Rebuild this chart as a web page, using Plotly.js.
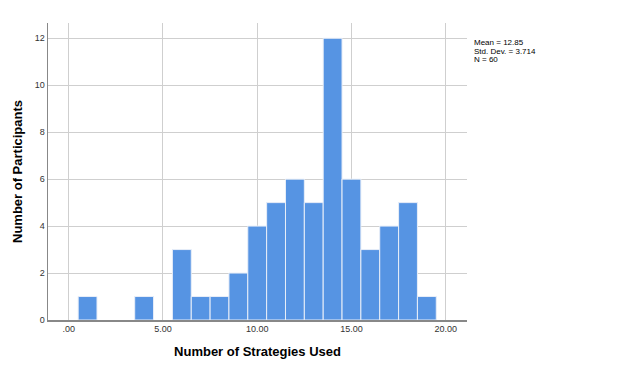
<!DOCTYPE html>
<html><head><meta charset="utf-8">
<script src="https://cdn.plot.ly/plotly-3.0.1.min.js"></script>
<style>html,body{margin:0;padding:0;background:#fff}#c{width:624px;height:367px}</style>
</head><body><div id="c"></div>
<script>
const strategies = [1, 4, 6, 7, 8, 9, 10, 11, 12, 13, 14, 15, 16, 17, 18, 19];
const participants = [1, 1, 3, 1, 1, 2, 4, 5, 6, 5, 12, 6, 3, 4, 5, 1];
const xTickVals = [0, 5, 10, 15, 20];
const xTickText = ['.00', '5.00', '10.00', '15.00', '20.00'];
const yTickVals = [0, 2, 4, 6, 8, 10, 12];
const statsLines = ['Mean = 12.85', 'Std. Dev. = 3.714', 'N = 60'];

const trace = {
  type: 'bar', x: strategies, y: participants, width: 1,
  marker: {color: '#5694e3', line: {color: '#e8eef8', width: 1}},
  hoverinfo: 'x+y'
};
const statFont = {size: 8, color: '#000', family: 'Arial, Liberation Sans, sans-serif'};
const layout = {
  width: 624, height: 367,
  margin: {l: 47.5, r: 157, t: 23, b: 47},
  paper_bgcolor: '#fff', plot_bgcolor: '#fff',
  showlegend: false, bargap: 0,
  font: {family: 'Arial, Liberation Sans, sans-serif', size: 9, color: '#333'},
  xaxis: {
    range: [-1.1, 21.13], tickvals: xTickVals, ticktext: xTickText,
    showgrid: true, gridcolor: '#cfcfcf', gridwidth: 1, zeroline: false,
    showline: true, linecolor: '#888', linewidth: 1.5, ticks: '',
    tickfont: {size: 9, color: '#333'},
    title: {text: 'Number of Strategies Used', font: {size: 13, color: '#000', family: 'Arial, Liberation Sans, sans-serif', weight: 'bold'}, standoff: 13}
  },
  yaxis: {
    range: [0, 12.65], tickvals: yTickVals,
    showgrid: true, gridcolor: '#cfcfcf', gridwidth: 1, zeroline: false,
    showline: true, linecolor: '#888', linewidth: 1.5, ticks: '',
    tickfont: {size: 9, color: '#333'},
    title: {text: 'Number of Participants', font: {size: 13, color: '#000', family: 'Arial, Liberation Sans, sans-serif', weight: 'bold'}, standoff: 9}
  },
  annotations: statsLines.map((t, i) => ({
    xref: 'paper', yref: 'paper', x: 1.012, y: 0.934 - i * 0.0285,
    xanchor: 'left', yanchor: 'middle', text: t, showarrow: false, align: 'left',
    font: statFont
  }))
};
Plotly.newPlot('c', [trace], layout, {displayModeBar: false, staticPlot: true});
</script></body></html>
